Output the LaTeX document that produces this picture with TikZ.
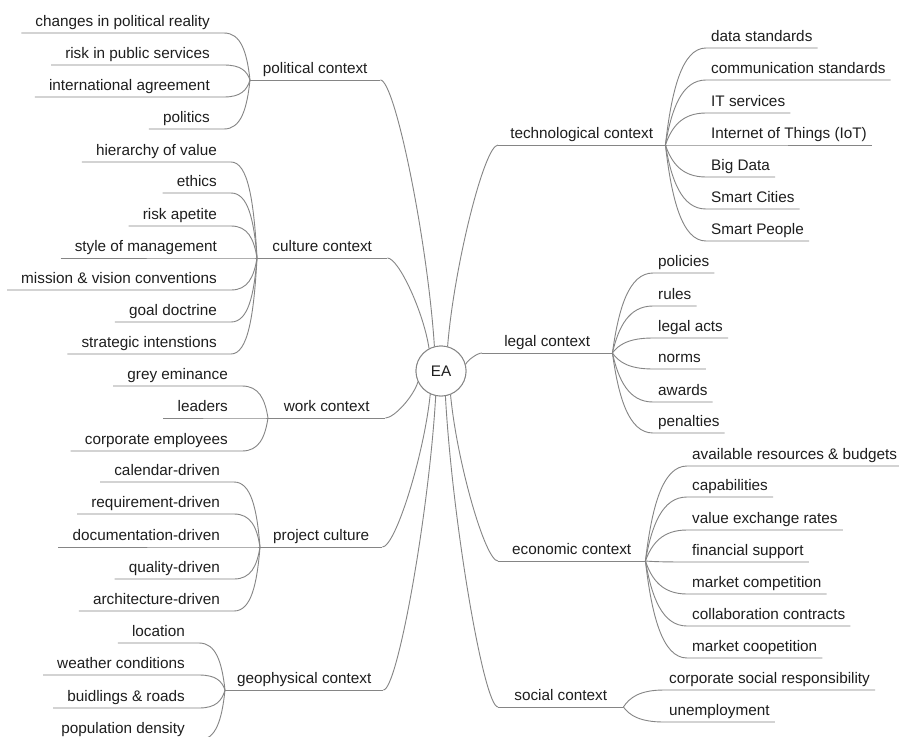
\documentclass[tikz,border=0pt]{standalone}
\usepackage{fontspec}
\setmainfont{Liberation Sans}
\usetikzlibrary{calc}

\definecolor{linegray}{HTML}{858585}
\definecolor{inkgray}{HTML}{1E1E1E}

\tikzset{
  branch/.style={draw=linegray, line width=0.9pt},
  labeltext/.style={text=inkgray, inner ysep=3pt, text height=11pt, text depth=3pt},
  topic/.style={labeltext, anchor=south west, inner xsep=0pt},
  leafL/.style={labeltext, anchor=south east, inner xsep=14pt},
  leafR/.style={labeltext, anchor=south west, inner xsep=5pt},
  rootnode/.style={circle, draw=linegray, line width=0.9pt, fill=white, text=inkgray,
                   minimum size=50pt, inner sep=0pt}
}

% edge from the central circle to the near end of a topic underline
\newcommand\rootedge[2]{%
  \draw[branch] let \p1=(#1), \p2=(#2) in
    (\p1) .. controls ({\x1+0.13*(\x2-\x1)},{\y1+0.4*(\y2-\y1)})
              and ({\x2-0.27*(\x2-\x1)},\y2) .. (\p2);
}
% leaf on the left of its topic: underline, then a curve into the topic hub
\newcommand\leftleaf[4]{%
  \node[leafL] (#1) at #3 {#4};
  \draw[branch] let \p1=(#1.south east), \p2=(#2.south west) in
    (#1.south west) -- (\p1)
    .. controls ({\x1+0.65*(\x2-\x1)},\y1)
           and ({\x2+0.12*(\x1-\x2)},{\y2+0.6*(\y1-\y2)}) .. (\p2);
}
% leaf on the right of its topic: curve out of the topic hub, then underline
\newcommand\rightleaf[4]{%
  \node[leafR] (#1) at #3 {#4};
  \draw[branch] let \p1=(#2.south east), \p2=(#1.south west) in
    (\p1) .. controls ({\x1+0.15*(\x2-\x1)},{\y1+0.55*(\y2-\y1)})
              and ({\x2+0.6*(\x1-\x2)},\y2) .. (\p2) -- (#1.south east);
}

\begin{document}
\begin{tikzpicture}[x=1pt, y=-1pt, font=\fontsize{15.3}{18}\selectfont]
\clip (0,0) rectangle (899,736);
\fill[white] (0,0) rectangle (899,736);

% ---- topics ----
\node[topic, minimum width=130pt] (political)  at (250,80)  {political context};
\node[topic, minimum width=130pt] (culture)    at (257,258) {culture context};
\node[topic, minimum width=117pt] (work)       at (268,418) {work context};
\node[topic, minimum width=122pt] (project)    at (260,547) {project culture};
\node[topic, minimum width=158pt] (geo)        at (225,690) {geophysical context};
\node[topic, minimum width=167pt] (tech)       at (498,145) {technological context};
\node[topic, minimum width=130pt] (legal)      at (482,353) {legal context};
\node[topic, minimum width=147pt] (economic)   at (498,561) {economic context};
\node[topic, minimum width=125pt] (social)     at (498,707) {social context};

\foreach \t in {political,culture,work,project,geo,tech,legal,economic,social}
  \draw[branch] (\t.south west) -- (\t.south east);

% ---- political context ----
\leftleaf{p1}{political}{(224,33)}{changes in political reality}
\leftleaf{p2}{political}{(224,65)}{risk in public services}
\leftleaf{p3}{political}{(224,97)}{international agreement}
\leftleaf{p4}{political}{(224,129)}{politics}

% ---- culture context ----
\leftleaf{c1}{culture}{(231,162)}{hierarchy of value}
\leftleaf{c2}{culture}{(231,193)}{ethics}
\leftleaf{c3}{culture}{(231,226)}{risk apetite}
\leftleaf{c4}{culture}{(231,258)}{style of management}
\leftleaf{c5}{culture}{(231,290)}{mission \& vision conventions}
\leftleaf{c6}{culture}{(231,322)}{goal doctrine}
\leftleaf{c7}{culture}{(231,354)}{strategic intenstions}

% ---- work context ----
\leftleaf{w1}{work}{(242,386)}{grey eminance}
\leftleaf{w2}{work}{(242,418)}{leaders}
\leftleaf{w3}{work}{(242,451)}{corporate employees}

% ---- project culture ----
\leftleaf{q1}{project}{(234,482)}{calendar-driven}
\leftleaf{q2}{project}{(234,514)}{requirement-driven}
\leftleaf{q3}{project}{(234,547)}{documentation-driven}
\leftleaf{q4}{project}{(234,579)}{quality-driven}
\leftleaf{q5}{project}{(234,611)}{architecture-driven}

% ---- geophysical context ----
\leftleaf{g1}{geo}{(199,643)}{location}
\leftleaf{g2}{geo}{(199,675)}{weather conditions}
\leftleaf{g3}{geo}{(199,708)}{buidlings \& roads}
\leftleaf{g4}{geo}{(199,740)}{population density}

% ---- technological context ----
\rightleaf{t1}{tech}{(706,48)}{data standards}
\rightleaf{t2}{tech}{(706,80)}{communication standards}
\rightleaf{t3}{tech}{(706,113)}{IT services}
\rightleaf{t4}{tech}{(706,145)}{Internet of Things (IoT)}
\rightleaf{t5}{tech}{(706,177)}{Big Data}
\rightleaf{t6}{tech}{(706,209)}{Smart Cities}
\rightleaf{t7}{tech}{(706,241)}{Smart People}

% ---- legal context ----
\rightleaf{l1}{legal}{(653,273)}{policies}
\rightleaf{l2}{legal}{(653,306)}{rules}
\rightleaf{l3}{legal}{(653,338)}{legal acts}
\rightleaf{l4}{legal}{(653,369)}{norms}
\rightleaf{l5}{legal}{(653,402)}{awards}
\rightleaf{l6}{legal}{(653,433)}{penalties}

% ---- economic context ----
\rightleaf{e1}{economic}{(687,466)}{available resources \& budgets}
\rightleaf{e2}{economic}{(687,497)}{capabilities}
\rightleaf{e3}{economic}{(687,530)}{value exchange rates}
\rightleaf{e4}{economic}{(687,562)}{financial support}
\rightleaf{e5}{economic}{(687,594)}{market competition}
\rightleaf{e6}{economic}{(687,626)}{collaboration contracts}
\rightleaf{e7}{economic}{(687,658)}{market coopetition}

% ---- social context ----
\rightleaf{s1}{social}{(664,690)}{corporate social responsibility}
\rightleaf{s2}{social}{(664,722)}{unemployment}

% ---- centre ----
\node[rootnode] (EA) at (441,371) {EA};
\rootedge{EA.105}{political.south east}
\rootedge{EA.118}{culture.south east}
\rootedge{EA.205}{work.south east}
\rootedge{EA.245}{project.south east}
\rootedge{EA.258}{geo.south east}
\rootedge{EA.75}{tech.south west}
\rootedge{EA.15}{legal.south west}
\rootedge{EA.292}{economic.south west}
\rootedge{EA.280}{social.south west}
\node[rootnode] at (EA) {EA};
\end{tikzpicture}
\end{document}
